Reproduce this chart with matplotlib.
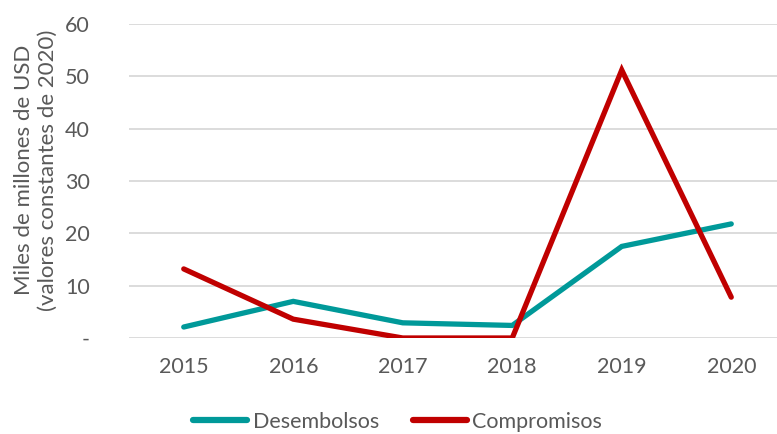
import matplotlib
matplotlib.use("Agg")
import matplotlib.pyplot as plt

years = ["2015", "2016", "2017", "2018", "2019", "2020"]
desembolsos = [2.1, 7.0, 2.9, 2.4, 17.5, 21.8]
compromisos = [13.2, 3.6, 0.0, 0.0, 51.2, 7.8]
yticks = [0, 10, 20, 30, 40, 50, 60]
ytick_labels = ["-", "10", "20", "30", "40", "50", "60"]

plt.rcParams['font.family'] = ['Lato', 'DejaVu Sans']
gray = "#595959"
fs = 15.5

fig = plt.figure(figsize=(7.77, 4.34), dpi=100)
ax = fig.add_axes([129/777, 1-338/434, (786-129)/777, (338-24)/434])
x = list(range(len(years)))
ax.plot(x, desembolsos, color="#009999", lw=3.8, solid_capstyle="round", solid_joinstyle="miter", label="Desembolsos", zorder=3)
ax.plot(x, compromisos, color="#C00000", lw=3.8, solid_capstyle="round", solid_joinstyle="miter", label="Compromisos", zorder=3)

ax.set_xlim(-0.5, 5.5)
ax.set_ylim(0, 60)
ax.set_yticks(yticks)
ax.set_yticklabels(ytick_labels)
ax.set_xticks(x)
ax.set_xticklabels(years)
ax.yaxis.grid(True, color="#D9D9D9", lw=1.3)
ax.set_axisbelow(True)
for s in ax.spines.values():
    s.set_visible(False)
ax.tick_params(axis="both", length=0, labelsize=fs, colors=gray)
ax.tick_params(axis="y", pad=28)
ax.tick_params(axis="x", pad=14)
ax.set_ylabel("Miles de millones de USD\n(valores constantes de 2020)", fontsize=16, color=gray, linespacing=1.25)
ax.yaxis.set_label_coords(-0.108, 0.535)

leg = fig.legend(loc="center", bbox_to_anchor=(0.512, 1-422/434), ncol=2, frameon=False,
                 fontsize=fs, handlelength=2.5, columnspacing=1.6, handletextpad=0.25)
for t in leg.get_texts():
    t.set_color(gray)
for l in leg.get_lines():
    l.set_linewidth(4.5)

fig.savefig("out.png", dpi=100)
